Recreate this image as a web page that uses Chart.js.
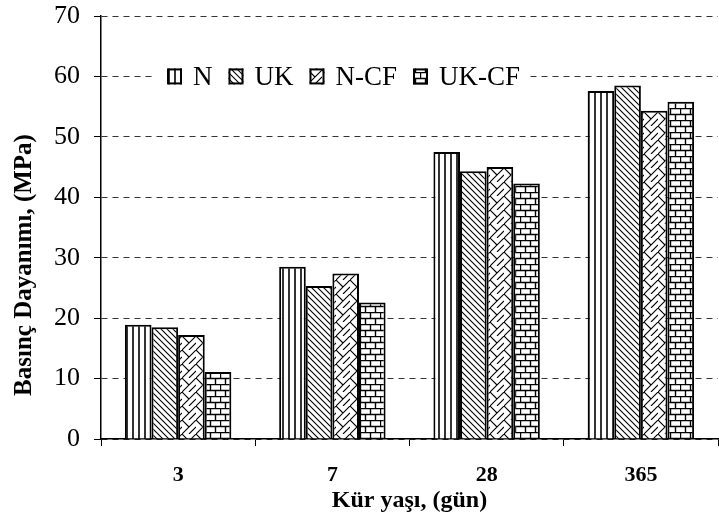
<!DOCTYPE html>
<html>
<head>
<meta charset="utf-8">
<script src="https://cdn.jsdelivr.net/npm/chart.js@4"></script>
<style>
        html, body { margin: 0; padding: 0; background: #fff; }
        #wrap { width: 719px; height: 518px; }
</style>
</head>
<body>
<div id="wrap"><canvas id="myChart" width="719" height="518"></canvas></div>
<script>
const categories = ['3', '7', '28', '365'];
const seriesNames = ['N', 'UK', 'N-CF', 'UK-CF'];
const nValues = [18.9, 28.5, 47.5, 57.6];
const ukValues = [18.5, 25.3, 44.3, 58.5];
const ncfValues = [17.2, 27.4, 45.0, 54.3];
const ukcfValues = [11.1, 22.6, 42.3, 55.8];
const yTicks = [0, 10, 20, 30, 40, 50, 60, 70];

const serif = "'Liberation Serif', 'Times New Roman', serif";

// hatch patterns, like the old excel fills
function makePattern(kind) {
        const c = document.createElement('canvas');
        const g = c.getContext('2d');
        let w = 6, h = 6;
        if (kind == 'weave') { w = 14; h = 14; }
        if (kind == 'brick') { w = 20; h = 12; }
        c.width = w;
        c.height = h;
        g.fillStyle = '#fff';
        g.fillRect(0, 0, w, h);
        g.strokeStyle = '#000';
        if (kind == 'vert') {
                g.lineWidth = 1.6;
                g.beginPath();
                g.moveTo(1, 0); g.lineTo(1, h);
                g.stroke();
        } else if (kind == 'diag') {
                g.lineWidth = 1.1;
                g.beginPath();
                g.moveTo(-1, -1); g.lineTo(w + 1, h + 1);
                g.moveTo(-1, h - 1); g.lineTo(1, h + 1);
                g.moveTo(w - 1, -1); g.lineTo(w + 1, 1);
                g.stroke();
        } else if (kind == 'weave') {
                g.lineWidth = 1.1;
                g.beginPath();
                g.moveTo(0, h); g.lineTo(w, 0);
                g.moveTo(0, 0); g.lineTo(w / 2, h / 2);
                g.moveTo(w / 2, h); g.lineTo(w, h / 2);
                g.stroke();
        } else if (kind == 'brick') {
                g.lineWidth = 1.4;
                g.beginPath();
                g.moveTo(0, 0.5); g.lineTo(w, 0.5);
                g.moveTo(0, 6.5); g.lineTo(w, 6.5);
                g.moveTo(0.5, 0); g.lineTo(0.5, 6.5);
                g.moveTo(10.5, 0); g.lineTo(10.5, 6.5);
                g.moveTo(5.5, 6.5); g.lineTo(5.5, h);
                g.moveTo(15.5, 6.5); g.lineTo(15.5, h);
                g.stroke();
        }
        return g.createPattern(c, 'repeat');
}

const fills = [makePattern('vert'), makePattern('diag'), makePattern('weave'), makePattern('brick')];
const values = [nValues, ukValues, ncfValues, ukcfValues];

const datasets = seriesNames.map((name, i) => ({
        label: name,
        data: values[i],
        backgroundColor: fills[i],
        borderColor: '#000',
        borderWidth: 2,
        borderSkipped: 'bottom',
        categoryPercentage: 0.69,
        barPercentage: 1.0
}));

// legend sits inside the plot, on a white strip over the 60 line
const legendInside = {
        id: 'legendInside',
        afterDatasetsDraw(chart) {
                const ctx = chart.ctx;
                const area = chart.chartArea;
                const y = chart.scales.y.getPixelForValue(60);
                ctx.save();
                ctx.font = '27px ' + serif;
                ctx.textBaseline = 'alphabetic';
                let x = area.left + 66;
                const startX = x;
                const items = [];
                seriesNames.forEach((name, i) => {
                        items.push({ x: x, name: name, fill: fills[i] });
                        x += 14 + 12 + ctx.measureText(name).width + 16;
                });
                ctx.fillStyle = '#fff';
                ctx.fillRect(startX - 12, y - 14, x - startX + 4, 28);
                items.forEach(it => {
                        ctx.fillStyle = it.fill;
                        ctx.fillRect(it.x, y - 8, 15, 16);
                        ctx.strokeStyle = '#000';
                        ctx.lineWidth = 2;
                        ctx.strokeRect(it.x + 1, y - 7, 13, 14);
                        ctx.fillStyle = '#000';
                        ctx.fillText(it.name, it.x + 26, y + 9);
                });
                ctx.restore();
        }
};

// axis titles drawn by hand, the y one sits lower than the plot centre
const axisTitles = {
        id: 'axisTitles',
        afterDraw(chart) {
                const ctx = chart.ctx;
                const area = chart.chartArea;
                ctx.save();
                ctx.fillStyle = '#000';
                ctx.textAlign = 'center';
                ctx.textBaseline = 'alphabetic';
                ctx.font = 'bold 24px ' + serif;
                ctx.fillText('Kür yaşı, (gün)', (area.left + area.right) / 2, 507);
                ctx.translate(31, 265);
                ctx.rotate(-Math.PI / 2);
                ctx.font = 'bold 25px ' + serif;
                ctx.fillText('Basınç Dayanımı, (MPa)', 0, 0);
                ctx.restore();
        }
};

const config = {
        type: 'bar',
        data: { labels: categories, datasets: datasets },
        options: {
                responsive: false,
                animation: false,
                layout: { padding: { top: 0, right: 1, left: 0, bottom: 0 } },
                plugins: {
                        legend: { display: false },
                        tooltip: { enabled: false }
                },
                scales: {
                        x: {
                                offset: true,
                                grid: {
                                        offset: true,
                                        drawOnChartArea: false,
                                        tickLength: 7,
                                        color: '#000',
                                        lineWidth: 1
                                },
                                border: { color: '#000', width: 1.5 },
                                ticks: {
                                        color: '#000',
                                        padding: 16,
                                        font: { family: serif, size: 22, weight: 'bold' }
                                },
                                afterFit: scale => { scale.height = 79; }
                        },
                        y: {
                                min: 0,
                                max: 70,
                                afterBuildTicks: scale => { scale.ticks = yTicks.map(v => ({ value: v })); },
                                grid: {
                                        color: '#333',
                                        lineWidth: 1,
                                        tickLength: 7,
                                        tickColor: '#000',
                                        tickWidth: 1
                                },
                                border: { color: '#000', width: 1.5, dash: [6, 5] },
                                ticks: {
                                        color: '#000',
                                        padding: 14,
                                        font: { family: serif, size: 26 }
                                },
                                afterFit: scale => {
                                        scale.width = 101;
                                        scale.paddingTop = 16;
                                }
                        }
                }
        },
        plugins: [legendInside, axisTitles]
};

const myChart = new Chart(document.getElementById('myChart'), config);
</script>
</body>
</html>
